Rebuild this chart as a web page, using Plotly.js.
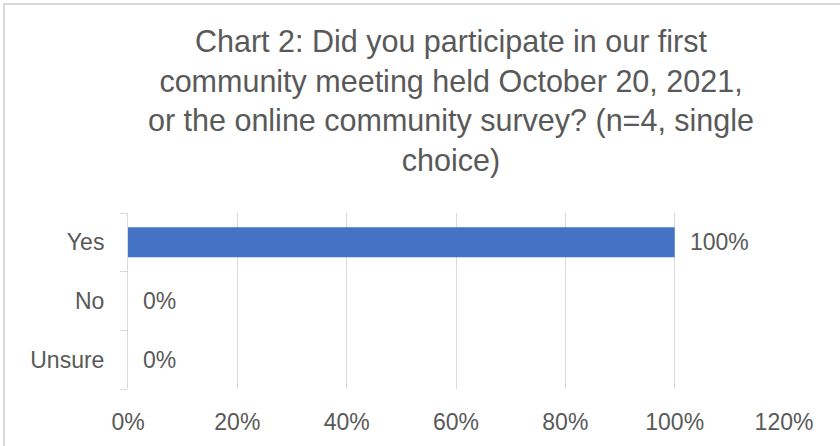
<!DOCTYPE html>
<html>
<head>
<meta charset="utf-8">
<script src="https://cdn.plot.ly/plotly-3.0.1.min.js"></script>
<style>
  html, body { margin: 0; padding: 0; background: #ffffff; }
  #wrap { position: relative; width: 840px; height: 446px; overflow: hidden; }
  #chart { width: 840px; height: 446px; }
  #frame { position: absolute; left: 3px; top: 3px; width: 900px; height: 500px;
           border-left: 2px solid #d9d9d9; border-top: 2px solid #d9d9d9; pointer-events: none; }
</style>
</head>
<body>
<div id="wrap">
  <div id="chart"></div>
  <div id="frame"></div>
</div>
<script>
const chartTitle = "Chart 2: Did you participate in our first<br>community meeting held October 20, 2021,<br>or the online community survey? (n=4, single<br>choice)";
const categories = ["Yes", "No", "Unsure"];
const values = [100, 0, 0];
const xTicks = [0, 20, 40, 60, 80, 100, 120];

const textColor = "#595959";
const fontFamily = "Liberation Sans, Arial, sans-serif";

const trace = {
  type: "bar",
  orientation: "h",
  y: categories,
  x: values,
  marker: { color: "#4472C4" },
  width: 0.51,
  hoverinfo: "none"
};

const annotations = categories.map((c, i) => ({
  x: values[i],
  y: c,
  xref: "x",
  yref: "y",
  text: values[i] + "%",
  showarrow: false,
  xanchor: "left",
  yanchor: "middle",
  xshift: 13,
  font: { family: fontFamily, size: 23, color: textColor }
}));

const layout = {
  width: 840,
  height: 446,
  margin: { l: 128, r: 56, t: 213, b: 57, pad: 0 },
  paper_bgcolor: "#ffffff",
  plot_bgcolor: "#ffffff",
  showlegend: false,
  font: { family: fontFamily, color: textColor },
  title: {
    text: chartTitle,
    font: { family: fontFamily, size: 30.5, color: textColor },
    x: 451 / 840,
    xanchor: "center",
    xref: "container",
    y: 1 - 52 / 446,
    yanchor: "top",
    yref: "container"
  },
  xaxis: {
    range: [0, 120],
    tickvals: xTicks,
    ticktext: xTicks.map(v => v + "%"),
    showgrid: true,
    gridcolor: "#d9d9d9",
    gridwidth: 1,
    zeroline: false,
    showline: false,
    ticks: "",
    ticklabelstandoff: 17,
    tickfont: { family: fontFamily, size: 23, color: textColor },
    fixedrange: true
  },
  yaxis: {
    type: "category",
    categoryorder: "array",
    categoryarray: categories.slice().reverse(),
    range: [-0.5, 2.5],
    showgrid: false,
    zeroline: false,
    showline: true,
    linecolor: "#d9d9d9",
    linewidth: 1,
    ticks: "outside",
    tickson: "boundaries",
    ticklen: 7,
    tickcolor: "#d9d9d9",
    tickwidth: 1,
    ticklabelstandoff: 18,
    tickfont: { family: fontFamily, size: 23, color: textColor },
    fixedrange: true
  },
  annotations: annotations
};

Plotly.newPlot("chart", [trace], layout, { staticPlot: true, displayModeBar: false });
</script>
</body>
</html>
